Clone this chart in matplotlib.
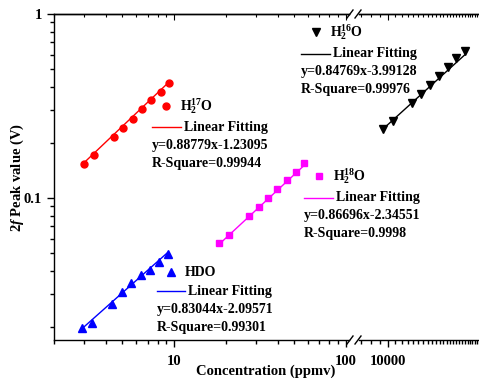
import numpy as np
import matplotlib
matplotlib.use('Agg')
import matplotlib.pyplot as plt
from matplotlib.lines import Line2D
from matplotlib.ticker import FixedLocator, MultipleLocator, NullFormatter, LogLocator, FuncFormatter

plt.rcParams['font.family'] = 'Liberation Serif'
plt.rcParams['font.weight'] = 'bold'
plt.rcParams['mathtext.fontset'] = 'custom'
plt.rcParams['mathtext.rm'] = 'Liberation Serif:bold'
plt.rcParams['mathtext.bf'] = 'Liberation Serif:bold'
plt.rcParams['mathtext.it'] = 'Liberation Serif:italic:bold'

# data (concentration in ppmv, 2f peak in V)
conc_h2o17 = [2.97, 3.42, 4.46, 5.05, 5.74, 6.53, 7.36, 8.33, 9.39]
peak_h2o17 = [0.153, 0.171, 0.215, 0.240, 0.270, 0.303, 0.340, 0.378, 0.422]

conc_hdo = [2.90, 3.34, 4.36, 4.98, 5.64, 6.38, 7.24, 8.19, 9.20]
peak_hdo = [0.0196, 0.0208, 0.0264, 0.0307, 0.0347, 0.0382, 0.0406, 0.0451, 0.0496]

conc_h2o18 = [18.2, 20.9, 27.2, 31.0, 35.1, 39.9, 45.4, 51.2, 57.2]
peak_h2o18 = [0.0567, 0.0629, 0.0798, 0.0890, 0.0996, 0.1115, 0.1248, 0.139, 0.155]

conc_h2o16 = [9390, 10650, 13700, 15450, 17500, 19800, 22320, 24950, 27860]
peak_h2o16 = [0.236, 0.262, 0.327, 0.366, 0.411, 0.460, 0.517, 0.574, 0.632]

# log-log fit parameters printed on the chart
slope = {'h2o17': 0.88779, 'hdo': 0.83044, 'h2o18': 0.86696, 'h2o16': 0.84769}
intercept = {'h2o17': -1.23095, 'hdo': -2.09571, 'h2o18': -2.34551, 'h2o16': -3.99128}
r_square = {'h2o17': '0.99944', 'hdo': '0.99301', 'h2o18': '0.9998', 'h2o16': '0.99976'}

W, H = 479, 378
FS = 10.5   # tick / axis labels
AFS = 10    # annotation text


def fx(x):
    return x / W


def fy(y):
    return 1 - y / H


def fit_line(ax, xs, key, color):
    xs = np.array([min(xs), max(xs)])
    ys = 10 ** (slope[key] * np.log10(xs) + intercept[key])
    ax.plot(xs, ys, color=color, lw=1.0, zorder=2)


fig = plt.figure(figsize=(W / 100, H / 100), dpi=100)
top, bot = 14, 340
ax1 = fig.add_axes([fx(54), fy(bot), fx(349 - 54), (bot - top) / H])
ax2 = fig.add_axes([fx(359), fy(bot), fx(478 - 359), (bot - top) / H], sharey=ax1)

for ax in (ax1, ax2):
    ax.set_xscale('log')
    ax.set_yscale('log')
    ax.spines['right'].set_visible(False)
    for s in ax.spines.values():
        s.set_linewidth(1.0)
ax2.spines['left'].set_visible(False)

ax1.set_ylim(0.0169, 1)
ax1.set_xlim(2.0, 104)
ax2.set_xlim(6780, 33370)

# series
ax1.plot(conc_h2o17, peak_h2o17, 'o', color='#ff0000', ms=5, zorder=3)
fit_line(ax1, conc_h2o17, 'h2o17', '#ff0000')
ax1.plot(conc_hdo, peak_hdo, '^', color='#0000ff', ms=5.5, zorder=3)
fit_line(ax1, conc_hdo, 'hdo', '#0000ff')
ax1.plot(conc_h2o18, peak_h2o18, 's', color='#ff00ff', ms=4.5, zorder=3)
fit_line(ax1, conc_h2o18, 'h2o18', '#ff00ff')
ax2.plot(conc_h2o16, peak_h2o16, 'v', color='black', ms=5.5, zorder=3)
fit_line(ax2, conc_h2o16, 'h2o16', 'black')

# ticks
ax1.yaxis.set_major_locator(FixedLocator([0.1, 1]))
ax1.yaxis.set_major_formatter(FuncFormatter(lambda v, p: '%g' % v))
ax1.yaxis.set_minor_locator(LogLocator(subs=np.arange(2, 10)))
ax1.yaxis.set_minor_formatter(NullFormatter())
ax1.tick_params(axis='y', which='major', direction='out', length=5, width=1, labelsize=FS)
ax1.tick_params(axis='y', which='minor', direction='out', length=3, width=1)

ax1.xaxis.set_major_locator(FixedLocator([10, 100]))
ax1.xaxis.set_major_formatter(FuncFormatter(lambda v, p: '%g' % v))
ax1.xaxis.set_minor_locator(LogLocator(subs=np.arange(2, 10)))
ax1.xaxis.set_minor_formatter(NullFormatter())

ax2.xaxis.set_major_locator(FixedLocator([10000]))
ax2.xaxis.set_major_formatter(FuncFormatter(lambda v, p: '%g' % v))
ax2.xaxis.set_minor_locator(MultipleLocator(1000))
ax2.xaxis.set_minor_formatter(NullFormatter())
ax2.tick_params(axis='y', which='both', left=False, labelleft=False)

for ax in (ax1, ax2):
    ax.tick_params(axis='x', which='major', direction='out', length=5, width=1, labelsize=FS, pad=6)
    ax.tick_params(axis='x', which='minor', direction='out', length=3, width=1)
    sec = ax.secondary_xaxis('top')
    sec.xaxis.set_major_locator(ax.xaxis.get_major_locator())
    sec.xaxis.set_minor_locator(ax.xaxis.get_minor_locator())
    sec.tick_params(which='both', direction='in', labeltop=False, width=0.8)
    sec.tick_params(which='major', length=4)
    sec.tick_params(which='minor', length=2.5)
    sec.spines['top'].set_linewidth(1.0)

# axis break marks
for yb in (bot, top):
    for xb in (347, 355):
        fig.add_artist(Line2D([fx(xb), fx(xb + 6)], [fy(yb + 4), fy(yb - 4)],
                              transform=fig.transFigure, color='black', lw=1.0))

# labels
fig.text(fx(266), fy(371), 'Concentration (ppmv)', ha='center', va='center', fontsize=FS)
fig.text(fx(17), fy(177), r'2$\mathit{f}$ Peak value (V)', ha='center', va='center',
         rotation=90, fontsize=FS)


# legend-like annotations
def annotate(mx, my, marker, color, ms, name, lx0, lx1, ly, eq_y, key):
    fig.add_artist(Line2D([fx(mx)], [fy(my)], marker=marker, color=color, ms=ms,
                          ls='none', transform=fig.transFigure))
    fig.text(fx(mx + 14), fy(my), name, ha='left', va='center', fontsize=AFS)
    fig.add_artist(Line2D([fx(lx0), fx(lx1)], [fy(ly), fy(ly)], color=color, lw=1.0,
                          transform=fig.transFigure))
    fig.text(fx(lx1 + 3), fy(ly), 'Linear Fitting', ha='left', va='center', fontsize=AFS)
    eq = 'y=%.5fx%.5f' % (slope[key], intercept[key])
    fig.text(fx(lx0), fy(eq_y), eq, ha='left', va='center', fontsize=AFS)
    fig.text(fx(lx0), fy(eq_y + 18), 'R-Square=' + r_square[key], ha='left', va='center',
             fontsize=AFS)


annotate(166, 106, 'o', '#ff0000', 5, r'$\mathbf{H_2^{17}O}$', 152, 181, 127, 146, 'h2o17')
annotate(316, 32, 'v', 'black', 5.5, r'$\mathbf{H_2^{16}O}$', 301, 330, 54, 72, 'h2o16')
annotate(319, 176, 's', '#ff00ff', 4.5, r'$\mathbf{H_2^{18}O}$', 304, 333, 198, 216, 'h2o18')
annotate(171, 272, '^', '#0000ff', 5.5, 'HDO', 157, 185, 291, 309, 'hdo')

fig.savefig('out.png', dpi=100)
